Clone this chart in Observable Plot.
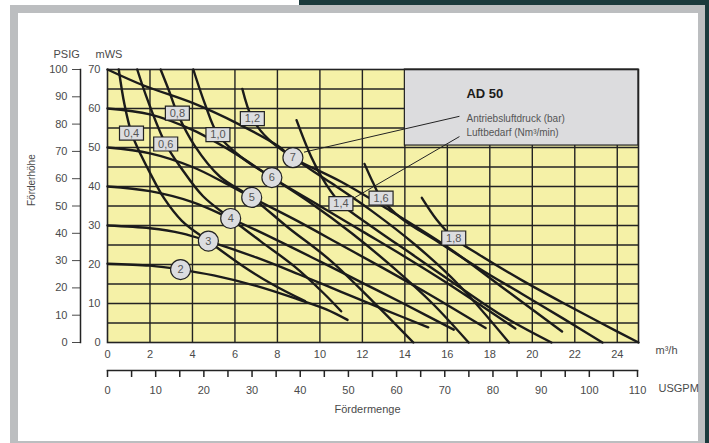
<!DOCTYPE html>
<html><head><meta charset="utf-8">
<script src="https://cdn.jsdelivr.net/npm/d3@7"></script>
<script src="https://cdn.jsdelivr.net/npm/@observablehq/plot@0.6"></script>
<style>
html,body{margin:0;padding:0;background:#fff;}
#page{position:relative;width:709px;height:443px;overflow:hidden;font-family:"Liberation Sans",Arial,sans-serif;}
.bg{position:absolute;}
#page svg{position:absolute;left:0;top:0;}
</style></head><body>
<div id="page">
 <div class="bg" style="left:299px;top:0;width:410px;height:5px;background:#1b3a3c"></div>
 <div class="bg" style="left:705px;top:0;width:4px;height:443px;background:#1b3a3c"></div>
 <div class="bg" style="left:10px;top:5px;width:695px;height:438px;background:#bcbec0"></div>
 <div class="bg" style="left:18px;top:13px;width:680px;height:428px;background:#fff"></div>
</div>
<script>
// ---- axis ticks ----
const xTicks = [0,2,4,6,8,10,12,14,16,18,20,22,24];
const xGrid = [2,4,6,8,10,12,14,16,18,20,22,24];
const yTicksMWS = [0,10,20,30,40,50,60,70];
const yGrid = [5,10,15,20,25,30,35,40,45,50,55,60,65];
const psigTicks = [0,10,20,30,40,50,60,70,80,90,100];
const usgpmTicks = [0,5,10,15,20,25,30,35,40,45,50,55,60,65,70,75,80,85,90,95,100,105,110];
const usgpmLabels = [0,10,20,30,40,50,60,70,80,90,100,110];

// ---- pressure curves (bar): [m3/h, mWS] ----
const curveP2 = [[0,20.2],[2,19.7],[3.45,18.7],[5,17.2],[7,14.5],[9,11],[10.3,8.5],[11.3,5.8]];
const curveP3 = [[0,30],[2,29.3],[3.5,28],[4.75,26],[7,21.8],[9,17.5],[11,13],[13,8.5],[15.1,3.9]];
const curveP4 = [[0,40],[2,38.8],[4,36],[5.8,31.8],[8,26.2],[10,20.8],[12,15.3],[14,9.8],[16.3,3.3]];
const curveP5 = [[0,50],[2,48.5],[4,45],[5.5,41],[6.79,37.2],[9,31],[11,25],[13,19],[15,12.8],[17.8,3.7]];
const curveP6 = [[0,60],[2,58.5],[4,54.5],[6,48.5],[7.74,42.3],[10,35],[12,28.5],[14,22],[16,15.2],[19.2,3.6]];
const curveP7 = [[0,70],[1.7,65.9],[4.06,61.3],[6.1,56.2],[8,50.5],[8.73,47.4],[11,41.2],[13.3,33.8],[16,24.5],[18.5,14.5],[21.4,2.8]];

// ---- air consumption curves (Nm3/min) ----
const curveA04 = [[0.53,70],[0.8,61],[1.13,53.7],[1.6,47.8],[2.0,43.5],[2.66,37],[3.5,31.2],[4.75,26],[6.4,19.5],[7.8,14.8],[9.3,10.6]];
const curveA06 = [[1.4,70],[1.9,62],[2.74,50.9],[3.5,44.5],[4.5,37.5],[5.8,31.8],[7.2,26],[8.8,19.5],[10.2,12.5],[11.0,8]];
const curveA08 = [[2.5,70],[2.9,64.5],[3.29,58.8],[4.1,50.5],[5.3,42.5],[6.79,37.2],[8.5,29.5],[10.5,21],[12.5,10.5],[14.4,0]];
const curveA10 = [[4.04,70],[4.6,61],[5.2,53.3],[6.3,47.5],[7.74,42.3],[9.5,36],[11.5,28],[13.5,19],[15.3,10],[17,0]];
const curveA12 = [[6.35,65],[6.82,57.4],[7.6,52],[8.73,47.4],[10.5,41],[12.5,33.5],[14.5,25],[16.5,15],[18.9,0]];
const curveA14 = [[8.9,57],[9.6,47.5],[10.3,40.5],[10.99,35.6],[12.5,29.5],[14.5,22],[16.5,14.5],[18.7,6.5],[20.9,0]];
const curveA16 = [[12.1,45.8],[12.5,41],[12.88,37],[13.8,32],[15.5,26],[17.5,19],[19.5,12.5],[21.5,6],[23.3,0]];
const curveA18 = [[14.8,37.1],[15.5,31.5],[16.3,26.8],[17.5,22.5],[19.5,16],[21.5,10],[23.3,4.8],[25,0]];

// ---- labels ----
const pressureLabelText = ["2","3","4","5","6","7"];
const pressureLabelX = [3.44,4.75,5.8,6.79,7.74,8.73];
const pressureLabelY = [18.7,26.0,31.8,37.2,42.3,47.4];
const airLabelText = ["0,4","0,6","0,8","1,0","1,2","1,4","1,6","1,8"];
const airLabelX = [1.13,2.74,3.29,5.2,6.82,10.99,12.88,16.3];
const airLabelY = [53.7,50.9,58.8,53.3,57.4,35.6,37.0,26.8];

// ---- legend box & leader lines ----
const legendBox = [{x1:14, x2:25, y1:50.5, y2:70}];
const legendTitle = "AD 50";
const legendLines = ["Antriebsluftdruck (bar)", "Luftbedarf (Nm³/min)"];
const legendTextX = 16.9;
const legendTitleY = 63.8;
const legendLineY = [57.4, 53.8];
const leaderFromX = [9.25, 11.56];
const leaderFromY = [48.8, 36.9];
const leaderToX = [16.57, 16.57];
const leaderToY = [58.0, 52.8];

// ---- build tables ----
const curves = [["P2",curveP2],["P3",curveP3],["P4",curveP4],["P5",curveP5],["P6",curveP6],["P7",curveP7],
  ["A04",curveA04],["A06",curveA06],["A08",curveA08],["A10",curveA10],["A12",curveA12],["A14",curveA14],["A16",curveA16],["A18",curveA18]];
const rows = curves.flatMap(([id, pts]) => pts.map(([x,y]) => ({id, x, y})));
const pressureLabels = pressureLabelText.map((label,i)=>({label, x:pressureLabelX[i], y:pressureLabelY[i]}));
const airLabels = airLabelText.map((label,i)=>({label, x:airLabelX[i], y:airLabelY[i]}));
const leaders = leaderFromX.map((x1,i)=>({x1, y1:leaderFromY[i], x2:leaderToX[i], y2:leaderToY[i]}));
const legendRows = legendLines.map((t,i)=>({t, x:legendTextX, y:legendLineY[i]}));

const boxSymbol = {draw(ctx){ ctx.moveTo(-12,-7); ctx.lineTo(12,-7); ctx.lineTo(12,7); ctx.lineTo(-12,7); ctx.closePath(); }};

const INK = "#232323";
const TXT = "#4a4a4a";
const FONT = "Liberation Sans, Arial, sans-serif";
const baseStyle = {background:"transparent", fontFamily:FONT, fontSize:"11px", color:TXT, overflow:"visible"};

const page = document.getElementById("page");

// main chart
const main = Plot.plot({
  width:709, height:443, marginLeft:107, marginRight:71, marginTop:69, marginBottom:101,
  style: baseStyle,
  x:{domain:[0,25], ticks:xTicks, tickSize:0, tickPadding:8, label:null},
  y:{domain:[0,70], ticks:yTicksMWS, tickSize:0, tickPadding:7, label:null},
  marks:[
    Plot.frame({fill:"#f5f1a7"}),
    Plot.ruleX(xGrid, {stroke:INK, strokeWidth:1.4}),
    Plot.ruleY(yGrid, {stroke:INK, strokeWidth:1.4}),
    Plot.rect(legendBox, {x1:"x1", x2:"x2", y1:"y1", y2:"y2", fill:"#dcdcde", stroke:INK, strokeWidth:1.2}),
    Plot.frame({stroke:INK, strokeWidth:1.6}),
    Plot.link(leaders, {x1:"x1", y1:"y1", x2:"x2", y2:"y2", stroke:INK, strokeWidth:1}),
    Plot.line(rows, {x:"x", y:"y", z:"id", curve:"catmull-rom", stroke:"#1b1b1b", strokeWidth:2.4}),
    Plot.dot(pressureLabels, {x:"x", y:"y", r:10, fill:"#dcdde0", stroke:INK, strokeWidth:1.2}),
    Plot.text(pressureLabels, {x:"x", y:"y", text:"label", fill:"#555", fontSize:11}),
    Plot.dot(airLabels, {x:"x", y:"y", symbol:boxSymbol, fill:"#dcdde0", stroke:INK, strokeWidth:1.2}),
    Plot.text(airLabels, {x:"x", y:"y", text:"label", fill:"#555", fontSize:11}),
    Plot.text([legendTitle], {x:legendTextX, y:legendTitleY, textAnchor:"start", fontWeight:"bold", fontSize:13, fill:"#1b1b1b"}),
    Plot.text(legendRows, {x:"x", y:"y", text:"t", textAnchor:"start", fontSize:10, fill:"#555"}),
    Plot.text(["mWS"], {frameAnchor:"top-left", dx:-12, dy:-19, fill:TXT}),
    Plot.text(["m³/h"], {frameAnchor:"bottom-right", dx:17, dy:11, textAnchor:"start", fill:TXT}),
    Plot.text(["Förderhöhe"], {frameAnchor:"left", dx:-76, dy:0, rotate:-90, fill:TXT, fontSize:10})
  ]
});
page.appendChild(main);

// PSIG axis
const psig = Plot.plot({
  width:709, height:443, marginLeft:80, marginRight:600, marginTop:69, marginBottom:101,
  style: baseStyle,
  y:{domain:[0,100], ticks:psigTicks, tickSize:8, tickPadding:5, label:null},
  marks:[
    Plot.ruleY(psigTicks, {strokeOpacity:0}),
    Plot.frame({anchor:"left", stroke:INK, strokeWidth:1.5}),
    Plot.text(["PSIG"], {frameAnchor:"top-left", dx:-27, dy:-19, fill:TXT})
  ]
});
page.appendChild(psig);

// USGPM axis
const usg = Plot.plot({
  width:709, height:443, marginLeft:107, marginRight:72, marginTop:370, marginBottom:66,
  style: baseStyle,
  x:{domain:[0,110], ticks:usgpmLabels, tickSize:0, tickPadding:9, label:null},
  marks:[
    Plot.frame({anchor:"top", stroke:INK, strokeWidth:1.5}),
    Plot.tickX(usgpmTicks, {stroke:INK, strokeWidth:1.5}),
    Plot.text(["USGPM"], {frameAnchor:"bottom-right", dx:21, dy:14, textAnchor:"start", fill:TXT}),
    Plot.text(["Fördermenge"], {frameAnchor:"bottom", dx:-5, dy:35, fill:TXT})
  ]
});
page.appendChild(usg);
</script>
</body></html>
